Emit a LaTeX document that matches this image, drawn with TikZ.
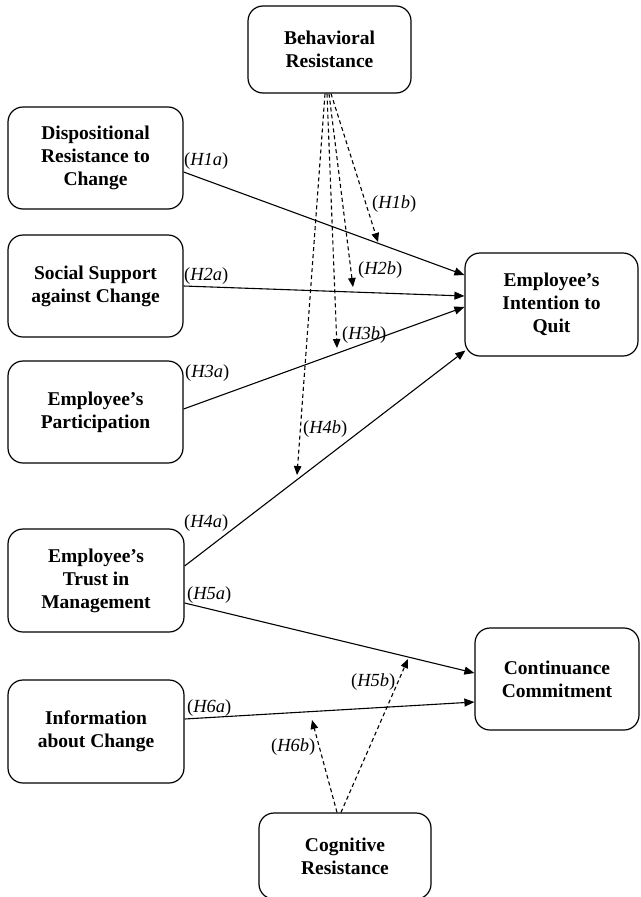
\documentclass[tikz,border=0pt]{standalone}
\usepackage{fontspec}
\setmainfont{Liberation Serif}
\usetikzlibrary{arrows.meta,calc}
\begin{document}
\begin{tikzpicture}[x=1pt,y=-1pt,
  box/.style={draw, line width=1.2pt, rounded corners=15pt, align=center,
    inner sep=0pt, font=\fontsize{19.5}{23}\selectfont\bfseries},
  hyp/.style={anchor=west, inner sep=0pt, font=\fontsize{18.5}{20}\selectfont},
  solidarrow/.style={line width=1.1pt, -{Triangle[length=10pt,width=8pt]}},
  dasharrow/.style={line width=1.1pt, dash pattern=on 4pt off 3pt, -{Triangle[length=9pt,width=7.5pt]}}]
\useasboundingbox (0,0) rectangle (640,897);
% boxes
\node[box, minimum width=163pt, minimum height=87pt] (beh) at (329.5,49.5) {Behavioral\\Resistance};
\node[box, minimum width=175pt, minimum height=102pt] (disp) at (95.5,158) {Dispositional\\Resistance to\\Change};
\node[box, minimum width=175pt, minimum height=102pt] (soc) at (95.5,286) {Social Support\\against Change};
\node[box, minimum width=175pt, minimum height=102pt] (part) at (95.5,412) {Employee’s\\Participation};
\node[box, minimum width=176pt, minimum height=103pt] (trust) at (96,580.5) {Employee’s\\Trust in\\Management};
\node[box, minimum width=176pt, minimum height=103pt] (info) at (96,731.5) {Information\\about Change};
\node[box, minimum width=173pt, minimum height=103pt] (quit) at (551.5,304.5) {Employee’s\\Intention to\\Quit};
\node[box, minimum width=164pt, minimum height=102pt] (cont) at (557,679) {Continuance\\Commitment};
\node[box, minimum width=172pt, minimum height=86pt] (cog) at (345,856) {Cognitive\\Resistance};
% solid paths
\coordinate (s1) at ($(disp.east)+(0,14)$);
\coordinate (e1) at ($(quit.west)+(0,-29.5)$);
\coordinate (s2) at ($(soc.east)+(0,0)$);
\coordinate (e2) at ($(quit.west)+(0,-8.5)$);
\coordinate (s3) at ($(part.east)+(0,-3)$);
\coordinate (e3) at ($(quit.west)+(0,2.5)$);
\coordinate (s4) at ($(trust.east)+(0,-14.5)$);
\coordinate (e4) at ($(quit.west)+(1,46)$);
\coordinate (s5) at ($(trust.east)+(0,22.5)$);
\coordinate (e5) at ($(cont.west)+(0,-6)$);
\coordinate (s6) at ($(info.east)+(0,-12.5)$);
\coordinate (e6) at ($(cont.west)+(0,23)$);
\draw[solidarrow] (s1) -- (e1);
\draw[solidarrow] (s2) -- (e2);
\draw[solidarrow] (s3) -- (e3);
\draw[solidarrow] (s4) -- (e4);
\draw[solidarrow] (s5) -- (e5);
\draw[solidarrow] (s6) -- (e6);
% dashed moderators
\coordinate (m1) at (378,242);
\coordinate (m2) at (353,287);
\coordinate (m3) at (337,348);
\coordinate (m4) at (297,475);
\coordinate (m5) at (408,659);
\coordinate (m6) at (312,720);
\draw[dasharrow] ($(beh.south)+(1.5,0)$) -- (m1);
\draw[dasharrow] ($(beh.south)+(-0.5,0)$) -- (m2);
\draw[dasharrow] ($(beh.south)+(-2.5,0)$) -- (m3);
\draw[dasharrow] ($(beh.south)+(-4.5,0)$) -- (m4);
\draw[dasharrow] ($(cog.north)+(-4,0)$) -- (m5);
\draw[dasharrow] ($(cog.north)+(-8,0)$) -- (m6);
% labels
\node[hyp] (l1a) at (184,161) {(\textit{H1a})};
\node[hyp] (l2a) at (184,276) {(\textit{H2a})};
\node[hyp] (l3a) at (185,373) {(\textit{H3a})};
\node[hyp] (l4a) at (184,523) {(\textit{H4a})};
\node[hyp] (l5a) at (187,595) {(\textit{H5a})};
\node[hyp] (l6a) at (187,708) {(\textit{H6a})};
\node[hyp] (l1b) at (372,204) {(\textit{H1b})};
\node[hyp] (l2b) at (358,270) {(\textit{H2b})};
\node[hyp] (l3b) at (342,335) {(\textit{H3b})};
\node[hyp] (l4b) at (303,429) {(\textit{H4b})};
\node[hyp] (l5b) at (351,682) {(\textit{H5b})};
\node[hyp] (l6b) at (271,747) {(\textit{H6b})};
\end{tikzpicture}
\end{document}
